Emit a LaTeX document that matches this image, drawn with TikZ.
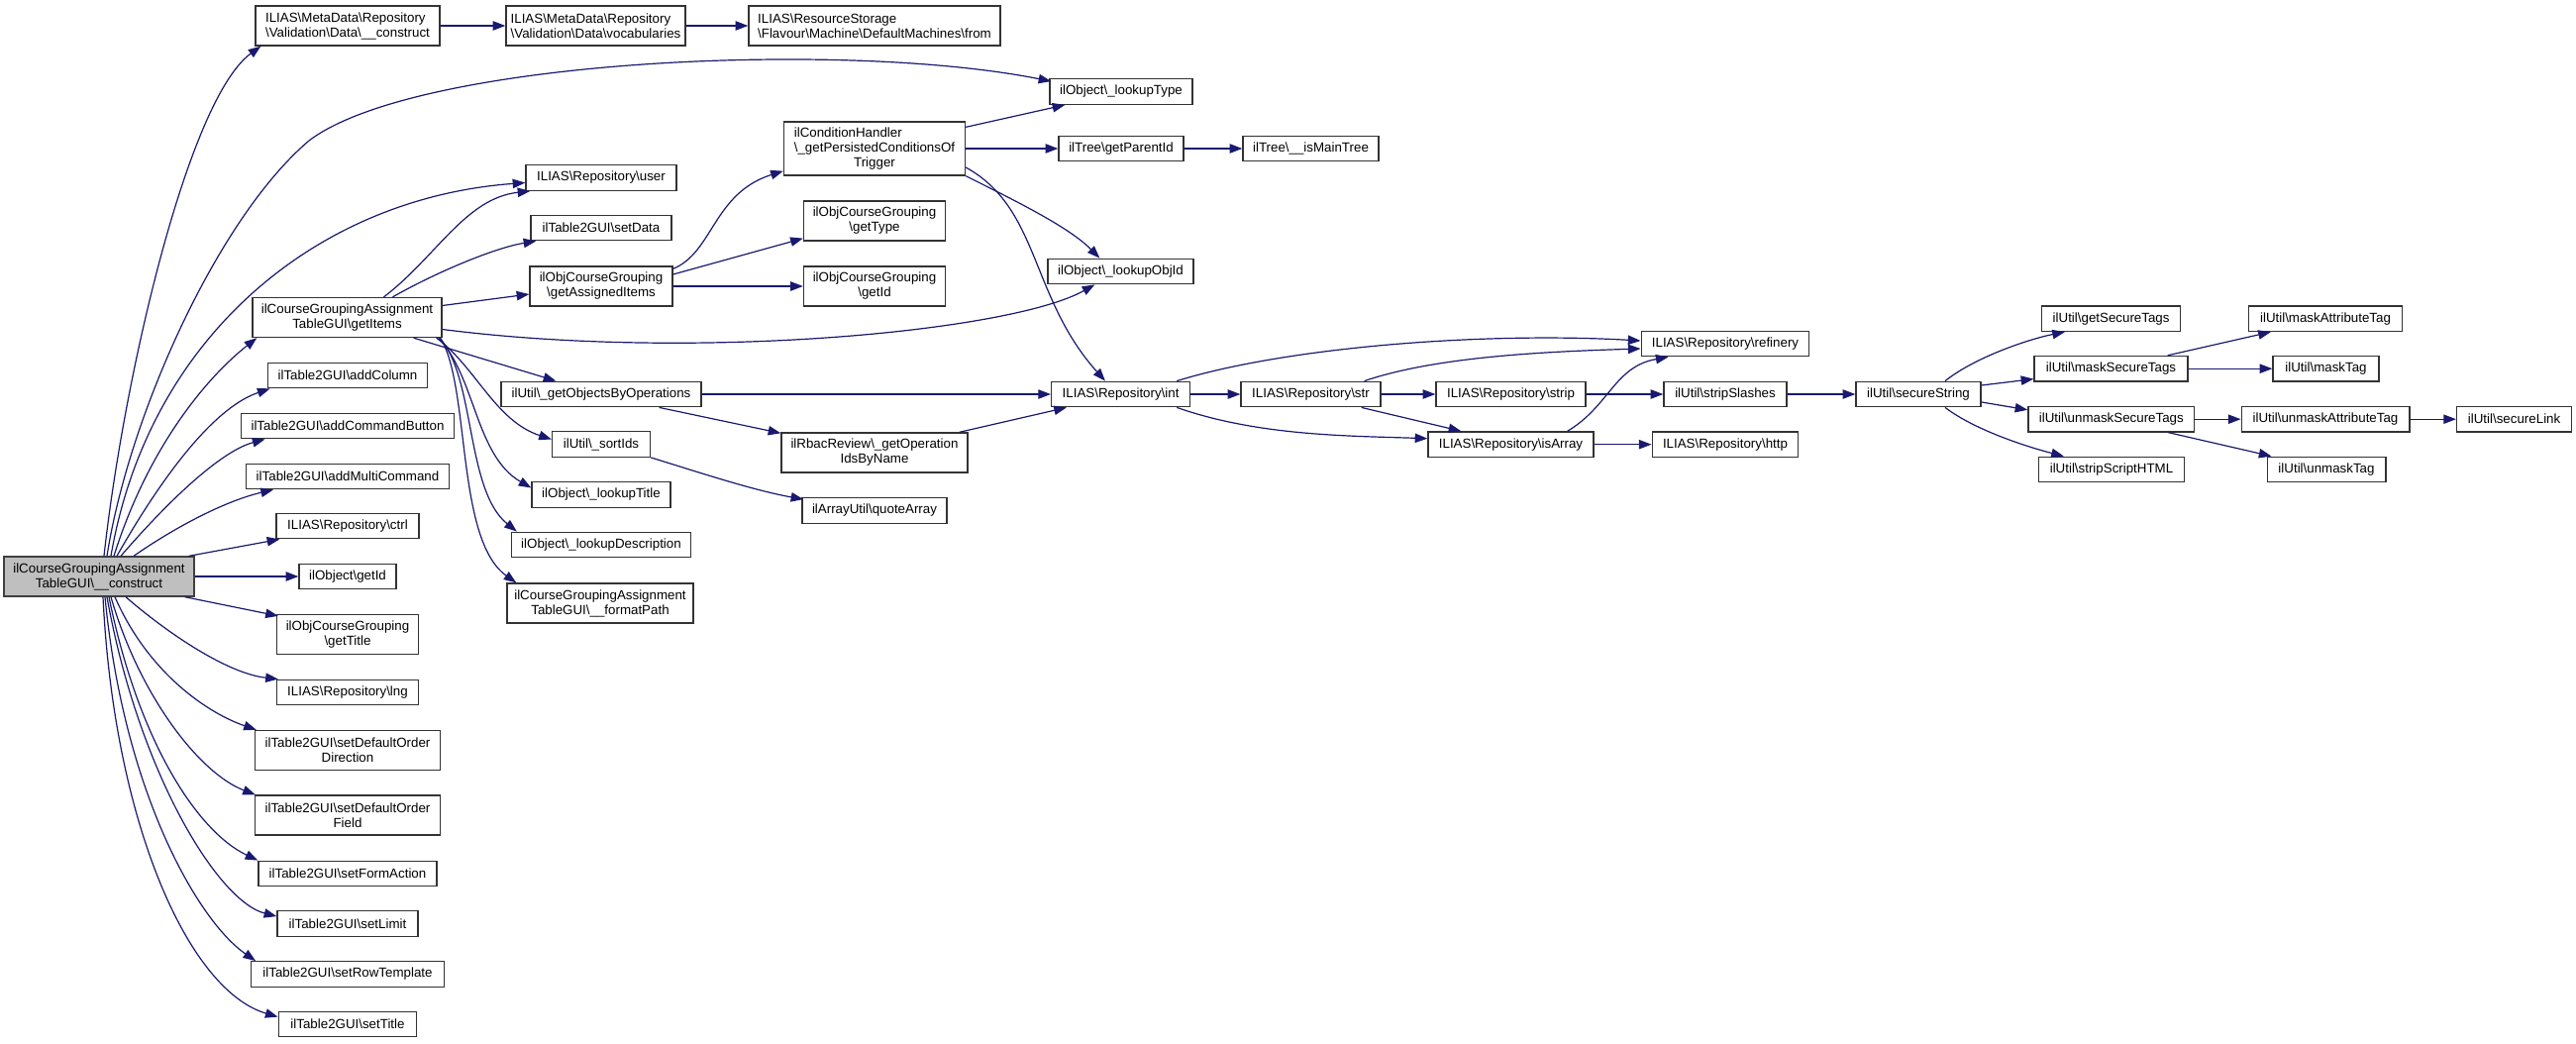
\documentclass[tikz,border=0pt]{standalone}
\usepackage{fontspec}
\setmainfont{Liberation Sans}
\usetikzlibrary{arrows.meta,calc}
\definecolor{edgeblue}{HTML}{191970}
\definecolor{mainfill}{HTML}{BFBFBF}
\definecolor{boxline}{HTML}{333333}
\newcommand\bsl{\textbackslash}
\begin{document}
\begin{tikzpicture}[x=0.75pt,y=-0.75pt,
  box/.style={draw=boxline, fill=white, line width=1pt, inner sep=0pt,
    minimum height=25.5*0.75pt, font=\fontsize{10}{11.25}\selectfont, align=center},
  boxl/.style={box, align=left},
  bw/.style={minimum width=#1*0.75pt},
  bh/.style={minimum height=#1*0.75pt},
  edge/.style={draw=edgeblue, line width=0.9pt, -{Triangle[length=9.5pt,width=7pt]}}]
\useasboundingbox (0,0) rectangle (2601,1053);
\fill[white] (0,0) rectangle (2601,1053);

% ---- nodes ----
\node[box,bw=192,bh=40,fill=mainfill,draw=black!75] (main) at (100,582) {ilCourseGroupingAssignment\\TableGUI\bsl\_\_construct};
\node[boxl,bw=186,bh=40] (metaC) at (351,26) {ILIAS\bsl MetaData\bsl Repository\\\bsl Validation\bsl Data\bsl\_\_construct};
\node[boxl,bw=181,bh=40] (vocab) at (601.5,26) {ILIAS\bsl MetaData\bsl Repository\\\bsl Validation\bsl Data\bsl vocabularies};
\node[boxl,bw=254,bh=40] (from) at (883,26) {ILIAS\bsl ResourceStorage\\\bsl Flavour\bsl Machine\bsl DefaultMachines\bsl from};
\node[box,bw=144] (lookupType) at (1132,92.5) {ilObject\bsl\_lookupType};
\node[box,bw=183,bh=54] (condH) at (883,150) {\begin{tabular}{@{}l@{}}ilConditionHandler\\\bsl\_getPersistedConditionsOf\\\multicolumn{1}{@{}c@{}}{Trigger}\end{tabular}};
\node[box,bw=126] (getParentId) at (1132,150) {ilTree\bsl getParentId};
\node[box,bw=137] (isMainTree) at (1323.5,150) {ilTree\bsl\_\_isMainTree};
\node[box,bw=152] (user) at (607,179.5) {ILIAS\bsl Repository\bsl user};
\node[box,bw=142] (setData) at (607,230) {ilTable2GUI\bsl setData};
\node[box,bw=144,bh=40] (getAssignedItems) at (607,289) {ilObjCourseGrouping\\\bsl getAssignedItems};
\node[box,bw=143,bh=40] (getType) at (883,223) {ilObjCourseGrouping\\\bsl getType};
\node[box,bw=147] (lookupObjId) at (1131.5,274) {ilObject\bsl\_lookupObjId};
\node[box,bw=143,bh=40] (ocgGetId) at (883,289) {ilObjCourseGrouping\\\bsl getId};
\node[box,bw=191,bh=40] (getItems) at (350.5,320.5) {ilCourseGroupingAssignment\\TableGUI\bsl getItems};
\node[box,bw=161.5] (addColumn) at (351,379) {ilTable2GUI\bsl addColumn};
\node[box,bw=215.5] (addCommandButton) at (351,430) {ilTable2GUI\bsl addCommandButton};
\node[box,bw=204.6] (addMultiCommand) at (351,481) {ilTable2GUI\bsl addMultiCommand};
\node[box,bw=144] (ctrl) at (351,531) {ILIAS\bsl Repository\bsl ctrl};
\node[box,bw=98] (getId) at (351,582) {ilObject\bsl getId};
\node[box,bw=143,bh=40] (getTitle) at (351,640.5) {ilObjCourseGrouping\\\bsl getTitle};
\node[box,bw=143] (lng) at (351,699) {ILIAS\bsl Repository\bsl lng};
\node[box,bw=187,bh=40] (sDOD) at (351,757.5) {ilTable2GUI\bsl setDefaultOrder\\Direction};
\node[box,bw=187,bh=40] (sDOF) at (351,823) {ilTable2GUI\bsl setDefaultOrder\\Field};
\node[box,bw=180] (setFormAction) at (351,882) {ilTable2GUI\bsl setFormAction};
\node[box,bw=142] (setLimit) at (351,932.5) {ilTable2GUI\bsl setLimit};
\node[box,bw=194.4] (setRowTemplate) at (351,983.5) {ilTable2GUI\bsl setRowTemplate};
\node[box,bw=139.5] (setTitle) at (351,1034) {ilTable2GUI\bsl setTitle};
\node[box,bw=202] (getObjByOps) at (607,398) {ilUtil\bsl\_getObjectsByOperations};
\node[box,bw=99] (sortIds) at (607,448.5) {ilUtil\bsl\_sortIds};
\node[box,bw=140] (lookupTitle) at (607,499.5) {ilObject\bsl\_lookupTitle};
\node[box,bw=181] (lookupDescription) at (607,550) {ilObject\bsl\_lookupDescription};
\node[box,bw=188,bh=40] (formatPath) at (606,609) {ilCourseGroupingAssignment\\TableGUI\bsl\_\_formatPath};
\node[box,bw=140] (int) at (1131.6,398) {ILIAS\bsl Repository\bsl int};
\node[box,bw=188,bh=40] (getOpIds) at (883,457) {ilRbacReview\bsl\_getOperation\\IdsByName};
\node[box,bw=146] (quoteArray) at (883,515.5) {ilArrayUtil\bsl quoteArray};
\node[box,bw=141] (str) at (1323.5,398) {ILIAS\bsl Repository\bsl str};
\node[box,bw=169.6] (refinery) at (1742,347) {ILIAS\bsl Repository\bsl refinery};
\node[box,bw=151] (strip) at (1525.5,398) {ILIAS\bsl Repository\bsl strip};
\node[box,bw=124] (stripSlashes) at (1742,398) {ilUtil\bsl stripSlashes};
\node[box,bw=167] (isArray) at (1525.5,448.7) {ILIAS\bsl Repository\bsl isArray};
\node[box,bw=147.6] (http) at (1742,448.7) {ILIAS\bsl Repository\bsl http};
\node[box,bw=126] (secureString) at (1937,398) {ilUtil\bsl secureString};
\node[box,bw=140] (getSecureTags) at (2131.6,321.7) {ilUtil\bsl getSecureTags};
\node[box,bw=155] (maskSecureTags) at (2131.5,372.2) {ilUtil\bsl maskSecureTags};
\node[box,bw=167.6] (unmaskSecureTags) at (2131.8,423.2) {ilUtil\bsl unmaskSecureTags};
\node[box,bw=147] (stripScriptHTML) at (2132,474) {ilUtil\bsl stripScriptHTML};
\node[box,bw=155] (maskAttributeTag) at (2348,321.7) {ilUtil\bsl maskAttributeTag};
\node[box,bw=107] (maskTag) at (2348.5,372.2) {ilUtil\bsl maskTag};
\node[box,bw=169.6] (unmaskAttributeTag) at (2348,423.2) {ilUtil\bsl unmaskAttributeTag};
\node[box,bw=119.7] (unmaskTag) at (2349,474) {ilUtil\bsl unmaskTag};
\node[box,bw=116] (secureLink) at (2538.6,423.2) {ilUtil\bsl secureLink};

% ---- edges from main ----
\draw[edge] ($(main.north)+(5,0)$) .. controls (125,380) and (190,100) .. ($(metaC.south west)+(6,0)$);
\draw[edge] ($(main.north)+(8,0)$) .. controls (130,420) and (220,220) .. (312,142) .. controls (420,60) and (850,40) .. ($(lookupType.north west)+(2,3)$);
\draw[edge] ($(main.north)+(12,0)$) .. controls (150,340) and (320,200) .. ($(user.west)+(0,5)$);
\draw[edge] ($(main.north)+(15,0)$) .. controls (150,450) and (210,380) .. ($(getItems.south west)+(5,0)$);
\draw[edge] ($(main.north)+(18,0)$) .. controls (170,470) and (220,410) .. ($(addColumn.south west)+(3,0)$);
\draw[edge] ($(main.north)+(22,0)$) .. controls (175,500) and (225,455) .. ($(addCommandButton.south west)+(25,0)$);
\draw[edge] ($(main.north)+(35,0)$) .. controls (180,530) and (230,505) .. ($(addMultiCommand.south west)+(28,0)$);
\draw[edge] ($(main.north east)+(-6,0)$) -- ($(ctrl.south west)+(4,0)$);
\draw[edge] (main) -- (getId);
\draw[edge] ($(main.south east)+(-10,0)$) -- ($(getTitle.north west)+(2,2)$);
\draw[edge] ($(main.south)+(27,0)$) .. controls (170,640) and (230,680) .. ($(lng.north west)+(2,0)$);
\draw[edge] ($(main.south)+(16,0)$) .. controls (150,680) and (210,720) .. ($(sDOD.north west)+(2,0)$);
\draw[edge] ($(main.south)+(12,0)$) .. controls (140,700) and (200,780) .. ($(sDOF.north west)+(1,0)$);
\draw[edge] ($(main.south)+(10,0)$) .. controls (140,750) and (200,840) .. (setFormAction.north west);
\draw[edge] ($(main.south)+(8,0)$) .. controls (140,780) and (220,910) .. ($(setLimit.north west)+(0,6)$);
\draw[edge] ($(main.south)+(6,0)$) .. controls (125,800) and (200,930) .. ($(setRowTemplate.north west)+(5,0)$);
\draw[edge] ($(main.south)+(4,0)$) .. controls (115,830) and (190,1000) .. ($(setTitle.north west)+(0,6)$);

% ---- top chain ----
\draw[edge] (metaC) -- (vocab);
\draw[edge] (vocab) -- (from);

% ---- edges from getItems ----
\draw[edge] ($(getItems.north)+(37,0)$) .. controls (440,260) and (470,200) .. ($(user.south west)+(5,0)$);
\draw[edge] ($(getItems.north)+(46,0)$) .. controls (440,275) and (500,250) .. ($(setData.south west)+(6,0)$);
\draw[edge] ($(getItems.east)+(0,-12)$) -- ($(getAssignedItems.west)+(0,8)$);
\draw[edge] ($(getItems.east)+(0,12)$) .. controls (700,365) and (1020,335) .. ($(lookupObjId.south west)+(48,0)$);
\draw[edge] ($(getItems.south east)+(-29,0)$) -- ($(getObjByOps.north west)+(56,0)$);
\draw[edge] ($(getItems.south east)+(-6,0)$) .. controls (480,370) and (500,425) .. ($(sortIds.west)+(0,-5)$);
\draw[edge] ($(getItems.south east)+(-4,0)$) .. controls (480,380) and (480,460) .. ($(lookupTitle.west)+(0,-7)$);
\draw[edge] ($(getItems.south east)+(-3,0)$) .. controls (480,380) and (470,495) .. ($(lookupDescription.north west)+(6,0)$);
\draw[edge] ($(getItems.south east)+(-2,0)$) .. controls (475,390) and (460,545) .. ($(formatPath.north west)+(10,0)$);

% ---- getAssignedItems ----
\draw[edge] ($(getAssignedItems.north east)+(0,3)$) .. controls (720,255) and (720,195) .. ($(condH.south west)+(0,-5)$);
\draw[edge] ($(getAssignedItems.east)+(0,-12)$) -- ($(getType.south west)+(0,-3)$);
\draw[edge] (getAssignedItems) -- (ocgGetId);

% ---- condH ----
\draw[edge] ($(condH.north east)+(0,6)$) -- ($(lookupType.south west)+(16,0)$);
\draw[edge] (condH) -- (getParentId);
\draw[edge] (condH.south east) .. controls (1030,205) and (1080,230) .. ($(lookupObjId.north west)+(53,0)$);
\draw[edge] ($(condH.east)+(0,19)$) .. controls (1050,210) and (1040,300) .. ($(int.north west)+(55,0)$);
\draw[edge] (getParentId) -- (isMainTree);

% ---- middle ----
\draw[edge] (getObjByOps) -- (int);
\draw[edge] ($(getObjByOps.south east)+(-43,0)$) -- ($(getOpIds.north west)+(0,1)$);
\draw[edge] (sortIds.south east) .. controls (700,475) and (760,495) .. ($(quoteArray.north west)+(2,2)$);
\draw[edge] ($(getOpIds.north east)+(-9,0)$) -- ($(int.south west)+(16,0)$);

% ---- int / str ----
\draw[edge] ($(int.north east)+(-14,0)$) .. controls (1300,350) and (1500,335) .. ($(refinery.west)+(0,-3)$);
\draw[edge] (int) -- (str);
\draw[edge] ($(int.south east)+(-14,0)$) .. controls (1270,440) and (1360,440) .. ($(isArray.west)+(0,-6)$);
\draw[edge] ($(str.north east)+(-17,0)$) .. controls (1450,360) and (1560,355) .. ($(refinery.west)+(0,5)$);
\draw[edge] (str) -- (strip);
\draw[edge] ($(str.south east)+(-20,0)$) -- ($(isArray.north west)+(34,0)$);
\draw[edge] (strip) -- (stripSlashes);
\draw[edge] ($(isArray.north east)+(-27,0)$) .. controls (1625,410) and (1630,370) .. ($(refinery.south west)+(28,0)$);
\draw[edge] (isArray) -- (http);
\draw[edge] (stripSlashes) -- (secureString);

% ---- secureString and right part ----
\draw[edge] ($(secureString.north)+(27,0)$) .. controls (1995,360) and (2050,342) .. ($(getSecureTags.south west)+(24,0)$);
\draw[edge] ($(secureString.east)+(0,-9)$) -- ($(maskSecureTags.south west)+(0,-3)$);
\draw[edge] ($(secureString.east)+(0,8)$) -- ($(unmaskSecureTags.north west)+(0,4)$);
\draw[edge] ($(secureString.south)+(27,0)$) .. controls (1995,435) and (2050,452) .. ($(stripScriptHTML.north west)+(26,0)$);
\draw[edge] ($(maskSecureTags.north east)+(-21,0)$) -- ($(maskAttributeTag.south west)+(23,0)$);
\draw[edge] (maskSecureTags) -- (maskTag);
\draw[edge] (unmaskSecureTags) -- (unmaskAttributeTag);
\draw[edge] ($(unmaskSecureTags.south east)+(-27,0)$) -- ($(unmaskTag.north west)+(5,0)$);
\draw[edge] (unmaskAttributeTag) -- (secureLink);
\end{tikzpicture}
\end{document}
